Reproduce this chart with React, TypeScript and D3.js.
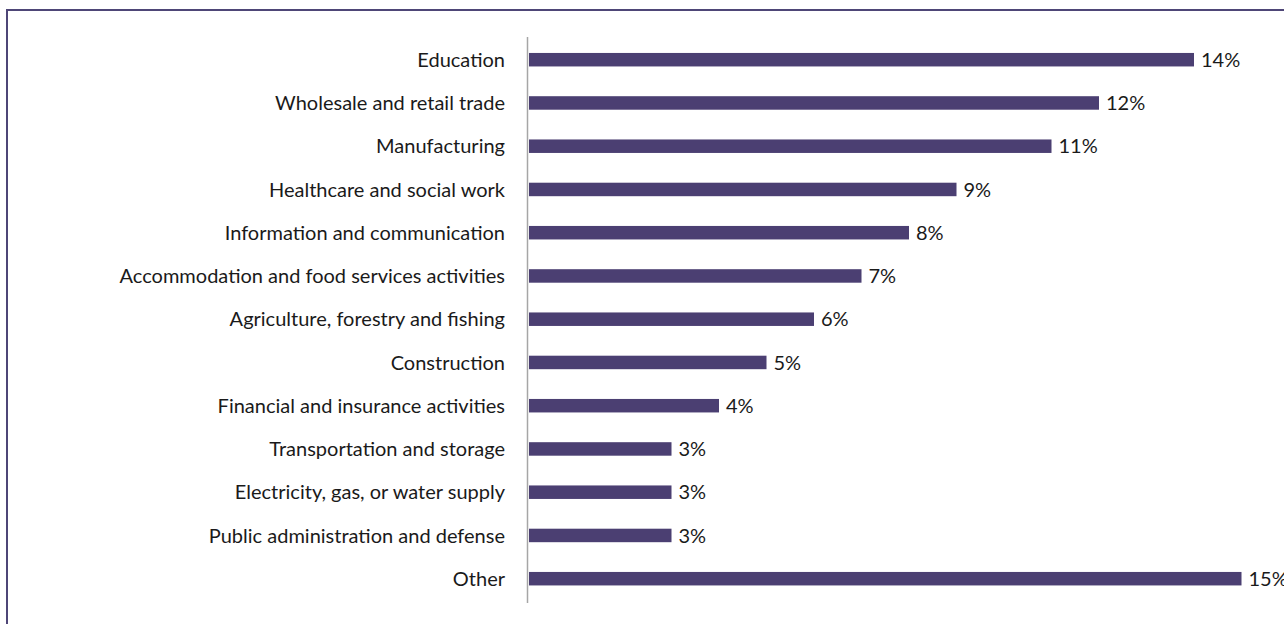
import React from "react";
import * as d3 from "d3";

const categories: string[] = [
  "Education",
  "Wholesale and retail trade",
  "Manufacturing",
  "Healthcare and social work",
  "Information and communication",
  "Accommodation and food services activities",
  "Agriculture, forestry and fishing",
  "Construction",
  "Financial and insurance activities",
  "Transportation and storage",
  "Electricity, gas, or water supply",
  "Public administration and defense",
  "Other",
];

const values: number[] = [14, 12, 11, 9, 8, 7, 6, 5, 4, 3, 3, 3, 15];

const W = 1284;
const H = 624;
const BAR = "#4b3f72";
const FONT = "Lato, 'Open Sans', sans-serif";

export default function App() {
  const x = d3.scaleLinear().domain([0, 15]).range([529, 1241.5]);
  const y = d3
    .scaleBand<string>()
    .domain(categories)
    .range([37, 601.4])
    .paddingInner(0.688)
    .paddingOuter(0.369);
  const bw = y.bandwidth();
  const fmt = (v: number) => `${d3.format(".0f")(v)}%`;

  return (
    <svg
      width={W}
      height={H}
      style={{ position: "absolute", left: 0, top: 0, display: "block", background: "#fff" }}
    >
      <rect x={7} y={10} width={W + 20} height={H + 20} fill="none" stroke="#4e4677" strokeWidth={2} />
      {categories.map((c, i) => {
        const yc = (y(c) as number) + bw / 2;
        return (
          <g key={c}>
            <rect x={x(0)} y={y(c)} width={x(values[i]) - x(0)} height={bw} fill={BAR} />
            <text
              x={505}
              y={yc}
              dy="0.36em"
              textAnchor="end"
              fontFamily={FONT}
              fontSize={20}
              fill="#1a1a1a"
            >
              {c}
            </text>
            <text
              x={x(values[i]) + 7}
              y={yc}
              dy="0.36em"
              fontFamily={FONT}
              fontSize={20}
              fill="#1a1a1a"
            >
              {fmt(values[i])}
            </text>
          </g>
        );
      })}
      <line x1={527.5} x2={527.5} y1={37} y2={603} stroke="#a6a6a6" strokeWidth={1.5} />
    </svg>
  );
}
